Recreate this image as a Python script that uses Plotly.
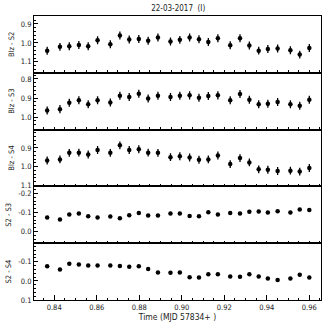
import plotly.graph_objects as go

time = [0.8367, 0.8427, 0.8471, 0.8516, 0.8560, 0.8604, 0.8664, 0.8709, 0.8753,
        0.8798, 0.8842, 0.8888, 0.8947, 0.8991, 0.9037, 0.9081, 0.9125, 0.9170,
        0.9228, 0.9274, 0.9318, 0.9362, 0.9405, 0.9451, 0.9511, 0.9555, 0.9600]

blz_s2 = [1.042, 1.021, 1.018, 1.011, 1.018, 0.986, 1.007, 0.961, 0.982,
          0.979, 0.989, 0.972, 0.993, 0.984, 0.972, 0.981, 0.995, 0.975,
          1.012, 0.975, 1.014, 1.041, 1.032, 1.030, 1.039, 1.062, 1.027]
blz_s3 = [0.965, 0.958, 0.925, 0.912, 0.933, 0.912, 0.923, 0.888, 0.895,
          0.877, 0.902, 0.888, 0.895, 0.888, 0.886, 0.898, 0.889, 0.886,
          0.911, 0.879, 0.909, 0.932, 0.930, 0.921, 0.932, 0.940, 0.909]
blz_s4 = [0.967, 0.961, 0.926, 0.925, 0.935, 0.911, 0.926, 0.886, 0.911,
          0.907, 0.925, 0.926, 0.949, 0.944, 0.951, 0.963, 0.961, 0.940,
          0.986, 0.954, 0.977, 1.014, 1.016, 1.023, 1.021, 1.026, 1.007]
s2_s3 = [-0.074, -0.063, -0.089, -0.095, -0.081, -0.074, -0.079, -0.070, -0.086,
         -0.098, -0.084, -0.084, -0.095, -0.095, -0.082, -0.081, -0.102, -0.089,
         -0.098, -0.095, -0.104, -0.105, -0.100, -0.107, -0.100, -0.116, -0.114]
s2_s4 = [-0.076, -0.060, -0.090, -0.085, -0.081, -0.080, -0.080, -0.078, -0.074,
         -0.076, -0.062, -0.044, -0.042, -0.044, -0.019, -0.018, -0.034, -0.035,
         -0.023, -0.021, -0.034, -0.023, -0.012, -0.004, -0.012, -0.032, -0.018]

err_blz = [0.021] * 27
err_diff = [0.005] * 27

panels = [
    ("Blz - S2", blz_s2, err_blz, [1.158, 0.858], [0.9, 1.0, 1.1]),
    ("Blz - S3", blz_s3, err_blz, [1.065, 0.768], [0.8, 0.9, 1.0]),
    ("Blz - S4", blz_s4, err_blz, [1.105, 0.802], [0.9, 1.0, 1.1]),
    ("S2 - S3", s2_s3, err_diff, [0.062, -0.238], [-0.2, -0.1, 0.0]),
    ("S2 - S4", s2_s4, err_diff, [0.1, -0.197], [-0.1, 0.0, 0.1]),
]

FONT = "DejaVu Sans Condensed, DejaVu Sans"
fig = go.Figure()
n = len(panels)
layout = {}
for i, (label, vals, errs, yr, yt) in enumerate(panels):
    k = i + 1
    xa = "x" if k == 1 else f"x{k}"
    ya = "y" if k == 1 else f"y{k}"
    fig.add_trace(go.Scatter(
        x=time, y=vals, mode="markers", xaxis=xa, yaxis=ya,
        marker=dict(color="black", size=4.5),
        error_y=dict(type="data", array=errs, visible=True, color="black",
                     thickness=1.3, width=0),
        showlegend=False,
    ))
    top = 1 - i / n
    bot = 1 - (i + 1) / n
    last = (k == n)
    layout["xaxis" if k == 1 else f"xaxis{k}"] = dict(
        domain=[0, 1], anchor=ya, range=[0.8305, 0.9655],
        tickvals=[0.84, 0.86, 0.88, 0.90, 0.92, 0.94, 0.96],
        ticktext=["0.84", "0.86", "0.88", "0.90", "0.92", "0.94", "0.96"] if last else [""] * 7,
        showticklabels=last,
        ticks="inside", ticklen=5, tickwidth=1, tickcolor="black",
        minor=dict(dtick=0.005, ticks="inside", ticklen=2.5, tickcolor="black", showgrid=False),
        showline=True, linecolor="black", linewidth=1, mirror=True,
        showgrid=False, zeroline=False,
        tickfont=dict(size=7.5, color="#222", family=FONT),
        title=dict(text="Time (MJD 57834+ )", font=dict(size=8.5, color="#222", family=FONT), standoff=2) if last else None,
        matches="x" if k > 1 else None,
    )
    layout["yaxis" if k == 1 else f"yaxis{k}"] = dict(
        domain=[bot, top], anchor=xa, range=yr,
        tickvals=yt, ticktext=[f"{v:.1f}" for v in yt],
        ticks="inside", ticklen=4, tickwidth=1, tickcolor="black",
        minor=dict(dtick=0.02, ticks="inside", ticklen=2, tickcolor="black", showgrid=False),
        showline=True, linecolor="black", linewidth=1, mirror=True,
        showgrid=False, zeroline=False,
        tickfont=dict(size=7.5, color="#222", family=FONT),
        title=dict(text=label, font=dict(size=7.5, color="#222", family=FONT), standoff=5),
    )

fig.update_layout(
    width=327, height=327,
    margin=dict(l=34, r=6, t=16, b=27),
    paper_bgcolor="white", plot_bgcolor="white",
    title=dict(text="22-03-2017  (I)", x=0.545, xanchor="center", y=0.985, yanchor="top",
               font=dict(size=8, color="#222", family=FONT)),
    **layout,
)

fig.write_html("out.html", config={"displayModeBar": False},
               post_script="document.body.style.margin='0';")
